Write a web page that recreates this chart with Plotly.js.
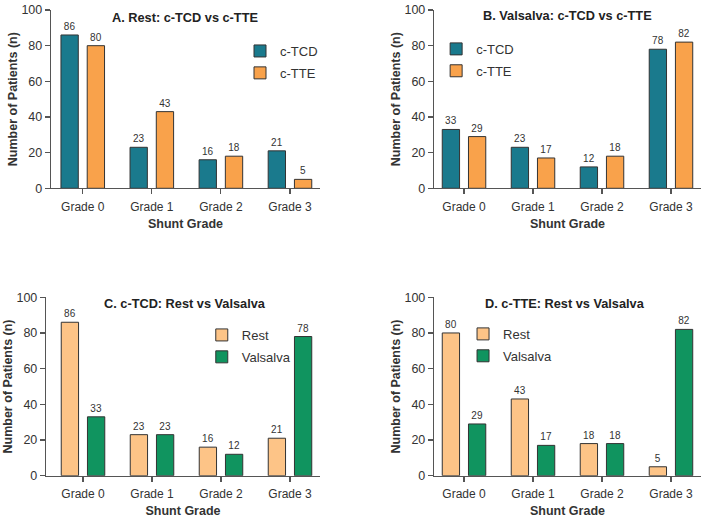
<!DOCTYPE html>
<html>
<head>
<meta charset="utf-8">
<script src="https://cdn.plot.ly/plotly-3.0.1.min.js"></script>
<style>
  html, body { margin: 0; padding: 0; background: #ffffff; }
  #chart { width: 708px; height: 522px; }
</style>
</head>
<body>
<div id="chart"></div>
<script>
// Shunt grade distributions by modality and manoeuvre
const grades = ['Grade 0', 'Grade 1', 'Grade 2', 'Grade 3'];
const tcdRest = [86, 23, 16, 21];
const tteRest = [80, 43, 18, 5];
const tcdValsalva = [33, 23, 12, 78];
const tteValsalva = [29, 17, 18, 82];

const panelTitles = [
  'A. Rest: c-TCD vs c-TTE',
  'B. Valsalva: c-TCD vs c-TTE',
  'C. c-TCD: Rest vs Valsalva',
  'D. c-TTE: Rest vs Valsalva'
];

const COL_TCD = '#1a7a8d';
const COL_TTE = '#f9a24b';
const COL_REST = '#fdc487';
const COL_VALS = '#10945f';
const FONT = 'Liberation Sans, Arial, Helvetica, sans-serif';

function barTrace(name, values, color, axisIdx, legendId) {
  const suffix = axisIdx === 1 ? '' : String(axisIdx);
  return {
    type: 'bar',
    name: name,
    x: grades,
    y: values,
    xaxis: 'x' + suffix,
    yaxis: 'y' + suffix,
    legend: legendId,
    legendgroup: legendId + name,
    marker: { color: color, line: { color: '#333333', width: 1 } },
    text: values.map(String),
    textposition: 'outside',
    constraintext: 'none',
    cliponaxis: false,
    textfont: { family: FONT, size: 10, color: '#333333' },
    hoverinfo: 'x+y+name'
  };
}

const data = [
  barTrace('c-TCD', tcdRest, COL_TCD, 1, 'legend'),
  barTrace('c-TTE', tteRest, COL_TTE, 1, 'legend'),
  barTrace('c-TCD', tcdValsalva, COL_TCD, 2, 'legend2'),
  barTrace('c-TTE', tteValsalva, COL_TTE, 2, 'legend2'),
  barTrace('Rest', tcdRest, COL_REST, 3, 'legend3'),
  barTrace('Valsalva', tcdValsalva, COL_VALS, 3, 'legend3'),
  barTrace('Rest', tteRest, COL_REST, 4, 'legend4'),
  barTrace('Valsalva', tteValsalva, COL_VALS, 4, 'legend4')
];

function xAxis(domain, range, anchor) {
  return {
    domain: domain,
    anchor: anchor,
    type: 'category',
    range: range,
    showgrid: false,
    zeroline: false,
    showline: true,
    linecolor: '#555555',
    linewidth: 1.2,
    ticks: 'outside',
    ticklen: 5,
    tickcolor: '#555555',
    tickwidth: 1.2,
    ticklabelstandoff: 2,
    tickfont: { family: FONT, size: 12, color: '#333333' },
    title: { text: '<b>Shunt Grade</b>', font: { family: FONT, size: 12.5, color: '#333333' }, standoff: 6 },
    automargin: false
  };
}

function yAxis(domain, anchor) {
  return {
    domain: domain,
    anchor: anchor,
    range: [0, 100],
    tickvals: [0, 20, 40, 60, 80, 100],
    showgrid: false,
    zeroline: false,
    showline: true,
    linecolor: '#555555',
    linewidth: 1.2,
    ticks: 'outside',
    ticklen: 5,
    tickcolor: '#555555',
    tickwidth: 1.2,
    tickfont: { family: FONT, size: 12.5, color: '#333333' },
    title: { text: '<b>Number of Patients (n)</b>', font: { family: FONT, size: 12.5, color: '#333333' }, standoff: 1 },
    automargin: false
  };
}

function legendAt(x, y) {
  return {
    x: x, y: y, xanchor: 'left', yanchor: 'top',
    bgcolor: 'rgba(0,0,0,0)',
    font: { family: FONT, size: 13, color: '#333333' },
    tracegroupgap: 2
  };
}

function panelTitle(text, x, y) {
  return {
    text: '<b>' + text + '</b>',
    xref: 'paper', yref: 'paper',
    x: x, y: y, xanchor: 'center', yanchor: 'middle',
    showarrow: false,
    font: { family: FONT, size: 12.75, color: '#222222' }
  };
}

const topDom = [0.6393, 0.9808];
const botDom = [0.0887, 0.4305];

const layout = {
  width: 708,
  height: 522,
  margin: { l: 0, r: 0, t: 0, b: 0 },
  paper_bgcolor: '#ffffff',
  plot_bgcolor: '#ffffff',
  barmode: 'group',
  bargap: 0.24,
  bargroupgap: 0.34,
  showlegend: true,
  font: { family: FONT, color: '#333333' },
  xaxis: xAxis([0.0720, 0.4520], [-0.46, 3.435], 'y'),
  yaxis: yAxis(topDom, 'x'),
  xaxis2: xAxis([0.6130, 0.9901], [-0.435, 3.435], 'y2'),
  yaxis2: yAxis(topDom, 'x2'),
  xaxis3: xAxis([0.0650, 0.4520], [-0.536, 3.435], 'y3'),
  yaxis3: yAxis(botDom, 'x3'),
  xaxis4: xAxis([0.6130, 0.9901], [-0.435, 3.435], 'y4'),
  yaxis4: yAxis(botDom, 'x4'),
  legend: legendAt(0.339, 0.931),
  legend2: legendAt(0.616, 0.935),
  legend3: legendAt(0.285, 0.387),
  legend4: legendAt(0.654, 0.389),
  annotations: [
    panelTitle(panelTitles[0], 185 / 708, 1 - 17 / 522),
    panelTitle(panelTitles[1], 567 / 708, 1 - 15 / 522),
    panelTitle(panelTitles[2], 185 / 708, 1 - 303 / 522),
    panelTitle(panelTitles[3], 565 / 708, 1 - 303 / 522)
  ]
};

Plotly.newPlot('chart', data, layout, { displayModeBar: false, staticPlot: true });
</script>
</body>
</html>
